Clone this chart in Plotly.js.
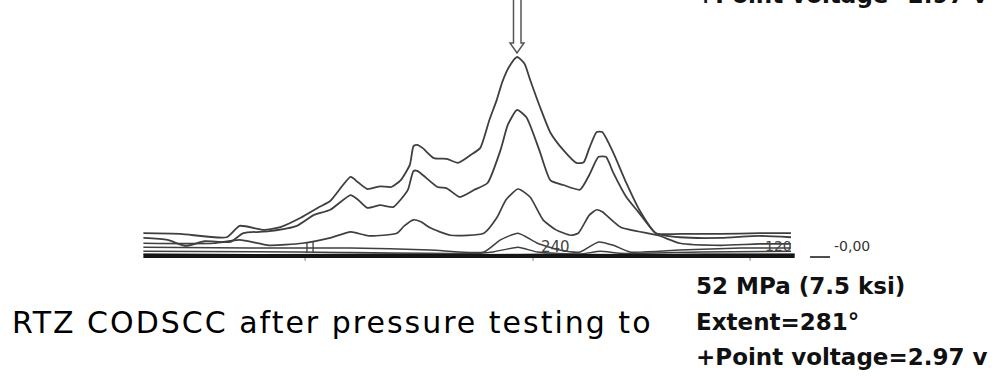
<!DOCTYPE html>
<html><head><meta charset="utf-8">
<script src="https://cdn.plot.ly/plotly-3.0.1.min.js"></script>
<style>
html,body{margin:0;padding:0;background:#fff;}
#chart{width:1003px;height:376px;}
g.annotation[data-index="0"] text{letter-spacing:2px;}
</style>
</head><body><div id="chart"></div>
<script>
// Circumferential position (degrees) and signal amplitude (volts) of each scan line
const scanA_deg = [463,443,418,411,398,389,378,368,362,351,347,342,335,329,324,319,317,315,312,306,299,293,286,281,276,272,269,265,261,257,254,249,243,236,229,225,222,218,215,209,202,195,186,173,151,130,113];
const scanA_v   = [0.34,0.33,0.28,0.45,0.39,0.43,0.57,0.73,0.82,1.18,1.10,1.00,1.04,1.03,1.13,1.36,1.64,1.66,1.61,1.46,1.45,1.39,1.51,1.61,2.03,2.33,2.60,2.84,2.97,2.87,2.63,2.25,1.84,1.58,1.39,1.40,1.61,1.85,1.85,1.54,1.09,0.69,0.34,0.33,0.33,0.34,0.34];

const scanB_deg = [463,450,440,430,416,409,395,380,371,362,351,347,342,335,328,324,320,317,315,312,304,299,292,284,277,270,266,261,256,249,243,236,227,222,217,213,209,202,195,186,173,151,130,113];
const scanB_v   = [0.27,0.24,0.15,0.22,0.21,0.34,0.37,0.45,0.61,0.69,0.91,0.84,0.72,0.76,0.73,0.84,0.99,1.27,1.27,1.21,1.03,1.01,0.88,0.99,1.09,1.58,1.96,2.18,2.07,1.58,1.13,1.06,0.99,1.21,1.48,1.48,1.24,0.88,0.64,0.34,0.28,0.27,0.30,0.28];

const scanC_deg = [463,425,411,395,377,362,351,341,326,322,317,313,308,297,279,272,267,260.5,254,247,240,232,228,222,218,215,205,185,173,151,130,113];
const scanC_v   = [0.19,0.19,0.24,0.16,0.19,0.27,0.36,0.30,0.34,0.45,0.54,0.51,0.42,0.31,0.34,0.57,0.84,1.00,0.88,0.54,0.39,0.31,0.34,0.61,0.69,0.66,0.43,0.31,0.19,0.16,0.18,0.18];

const scanD_deg = [463,405,351,308,279,270,260.5,250,238,227,217,209,200,173,140,113];
const scanD_v   = [0.13,0.12,0.12,0.09,0.06,0.24,0.34,0.19,0.09,0.06,0.21,0.16,0.06,0.09,0.12,0.12];

const scanE_deg = [463,378,281,274,260.5,250,227,216,205,162,113];
const scanE_v   = [0.07,0.06,0.04,0.06,0.13,0.06,0.03,0.07,0.04,0.06,0.07];

const scanF_deg = [463,400,330,280,240,200,160,111];
const scanF_v   = [0.03,0.02,0.03,0.02,0.03,0.02,0.03,0.03];

const base_deg = [463,111];
const base_v   = [0.0,0.0];

const scaleLabels = [240,120];
const zeroLabel = "-0,00";
const titleLeft = "RTZ CODSCC after pressure testing to";
const infoLines = ["52 MPa (7.5 ksi)","Extent=281°","+Point voltage=2.97 v"];

const lineCol = '#3f3f3f';
function tr(x,y,w,c,sm){return {x:x,y:y,type:'scatter',mode:'lines',line:{color:c||lineCol,width:w||1.7,shape:'spline',smoothing:sm===undefined?0.55:sm},hoverinfo:'skip',showlegend:false};}
const data = [
  tr(scanE_deg,scanE_v,1.4),
  tr(scanD_deg,scanD_v,1.5),
  tr(scanC_deg,scanC_v,1.7),
  tr(scanB_deg,scanB_v,1.8),
  tr(scanA_deg,scanA_v,1.8),
  tr(scanF_deg,scanF_v,1.4,'#444'),
  tr(base_deg,base_v,4,'#151515',0)
];

function px(x){return x/1003;} function py(y){return 1-y/376;}
const arrowPath = 'M '+px(513.5)+','+py(-3)+' L '+px(513.5)+','+py(43)+' L '+px(510)+','+py(43)+' L '+px(517)+','+py(53)+' L '+px(524)+','+py(43)+' L '+px(521)+','+py(43)+' L '+px(521)+','+py(-3);

const shapes = [
  {type:'path',xref:'paper',yref:'paper',path:arrowPath,line:{color:'#555',width:1.5}},
  {type:'line',xref:'x',yref:'y',x0:374.6,x1:374.6,y0:0.045,y1:0.21,line:{color:lineCol,width:1.3}},
  {type:'line',xref:'x',yref:'y',x0:371.3,x1:371.3,y0:0.045,y1:0.21,line:{color:lineCol,width:1.3}},
  {type:'line',xref:'x',yref:'y',x0:375.6,x1:375.6,y0:-0.03,y1:-0.07,line:{color:'#777',width:1}},
  {type:'line',xref:'x',yref:'y',x0:252.4,x1:252.4,y0:-0.03,y1:-0.07,line:{color:'#777',width:1}},
  {type:'line',xref:'x',yref:'y',x0:135.1,x1:135.1,y0:-0.03,y1:-0.07,line:{color:'#777',width:1}},
  {type:'line',xref:'x',yref:'y',x0:102.7,x1:91.9,y0:-0.015,y1:-0.015,line:{color:'#222',width:1.6}}
];

const txtFont = {family:'DejaVu Sans',size:30,color:'#000'};
const infoFont = {family:'DejaVu Sans',size:23,color:'#111',weight:'bold'};
const annotations = [
  {text:titleLeft,xref:'paper',yref:'paper',x:px(10),xshift:36,y:py(322.5),xanchor:'left',yanchor:'middle',showarrow:false,font:txtFont},
  {text:infoLines[0],xref:'paper',yref:'paper',x:px(694),y:py(286),xanchor:'left',yanchor:'middle',showarrow:false,font:infoFont},
  {text:infoLines[1],xref:'paper',yref:'paper',x:px(694),y:py(321.5),xanchor:'left',yanchor:'middle',showarrow:false,font:infoFont},
  {text:infoLines[2],xref:'paper',yref:'paper',x:px(694),y:py(356.5),xanchor:'left',yanchor:'middle',showarrow:false,font:infoFont},
  {text:infoLines[2],xref:'paper',yref:'paper',x:px(694),y:1,xanchor:'left',yanchor:'bottom',yshift:-10,showarrow:false,font:infoFont},
  {text:String(scaleLabels[0]),xref:'x',yref:'y',x:scaleLabels[0],y:0.134,xanchor:'center',yanchor:'middle',showarrow:false,font:{family:'DejaVu Sans',size:15,color:'#444'}},
  {text:String(scaleLabels[1]),xref:'x',yref:'y',x:scaleLabels[1],y:0.15,xanchor:'center',yanchor:'middle',showarrow:false,font:{family:'DejaVu Sans',size:14,color:'#444'}},
  {text:zeroLabel,xref:'x',yref:'y',x:90.8,y:0.15,xanchor:'left',yanchor:'middle',showarrow:false,font:{family:'DejaVu Sans',size:14,color:'#333'}}
];

const layout = {
  width:1003,height:376,autosize:false,
  margin:{l:0,r:0,t:0,b:0,pad:0},
  paper_bgcolor:'#fff',plot_bgcolor:'#fff',
  xaxis:{range:[540.5,-1.6],visible:false,fixedrange:true},
  yaxis:{range:[-1.791,3.821],visible:false,fixedrange:true},
  shapes:shapes,annotations:annotations,showlegend:false
};
Plotly.newPlot('chart',data,layout,{staticPlot:true,displayModeBar:false});
</script></body></html>
